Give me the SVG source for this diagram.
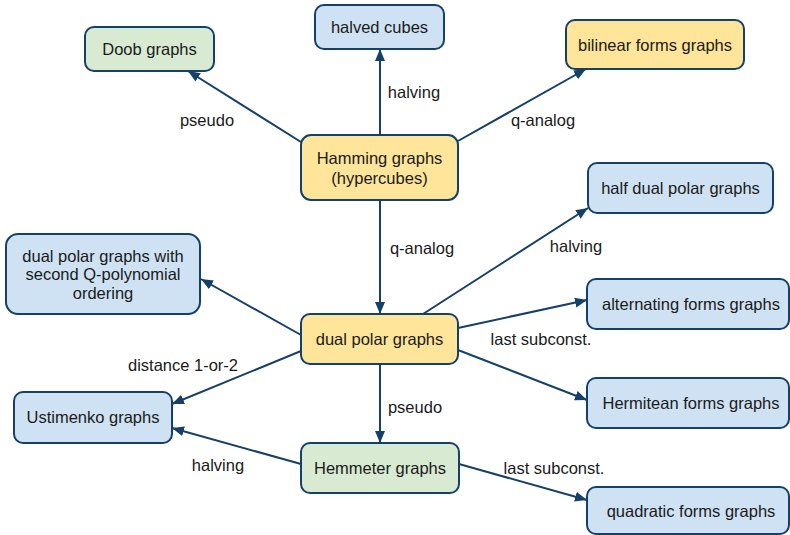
<svg xmlns="http://www.w3.org/2000/svg" width="790" height="535" viewBox="0 0 790 535">
<style>
rect{stroke:#15406a;stroke-width:2}
.b{fill:#cfe2f3}.y{fill:#ffe599}.g{fill:#d9ead3}
text{font-family:"Liberation Sans",Arial,sans-serif;font-size:16.5px;fill:#1a1a1a;text-anchor:middle}
#edges line{stroke:#15406a;stroke-width:2;marker-end:url(#ah)}
</style>
<defs>
<marker id="ah" markerUnits="userSpaceOnUse" markerWidth="14" markerHeight="12" refX="12" refY="5" orient="auto">
<path d="M0,0 L12,5 L0,10 z" fill="#15406a"/>
</marker>
</defs>
<rect width="790" height="535" fill="#fff" style="stroke:none"/>
<g id="edges">
<line x1="301" y1="142" x2="188" y2="71"/>
<line x1="380" y1="135" x2="380" y2="49"/>
<line x1="458" y1="141" x2="586" y2="69"/>
<line x1="380" y1="200" x2="380" y2="314"/>
<line x1="423" y1="314" x2="588" y2="208"/>
<line x1="301" y1="335" x2="201" y2="279"/>
<line x1="301" y1="351" x2="172" y2="404"/>
<line x1="458" y1="328" x2="587" y2="300"/>
<line x1="458" y1="350" x2="587" y2="400"/>
<line x1="380" y1="364" x2="380" y2="443"/>
<line x1="301" y1="464" x2="172" y2="428"/>
<line x1="459" y1="464" x2="587" y2="500"/>
</g>
<g id="labels">
<text x="207" y="126">pseudo</text>
<text x="414" y="98">halving</text>
<text x="543" y="126">q-analog</text>
<text x="422" y="254">q-analog</text>
<text x="576" y="252">halving</text>
<text x="541" y="345">last subconst.</text>
<text x="183" y="371">distance 1-or-2</text>
<text x="415" y="413">pseudo</text>
<text x="218" y="471">halving</text>
<text x="554" y="474">last subconst.</text>
</g>
<g id="doob"><rect class="g" x="85" y="27" width="129" height="44" rx="9"/><text x="149.5" y="55">Doob graphs</text></g>
<g id="halved"><rect class="b" x="315" y="5" width="129" height="44" rx="9"/><text x="379.5" y="33">halved cubes</text></g>
<g id="bilinear"><rect class="y" x="566" y="20" width="178" height="49" rx="9"/><text x="655" y="50.5">bilinear forms graphs</text></g>
<g id="hamming"><rect class="y" x="301" y="135" width="157" height="65" rx="10"/><text x="379.5" y="164">Hamming graphs</text><text x="379.5" y="184">(hypercubes)</text></g>
<g id="halfdual"><rect class="b" x="588" y="163" width="185" height="50" rx="9"/><text x="680.5" y="194">half dual polar graphs</text></g>
<g id="dualsecond"><rect class="b" x="6" y="234" width="194" height="80" rx="12"/><text x="103" y="262">dual polar graphs with</text><text x="103" y="280">second Q-polynomial</text><text x="103" y="299">ordering</text></g>
<g id="dualpolar"><rect class="y" x="301" y="314" width="157" height="50" rx="9"/><text x="379.5" y="345">dual polar graphs</text></g>
<g id="alternating"><rect class="b" x="587" y="279" width="202" height="50" rx="9"/><text x="691" y="310">alternating forms graphs</text></g>
<g id="hermitean"><rect class="b" x="587" y="378" width="202" height="50" rx="9"/><text x="691" y="409">Hermitean forms graphs</text></g>
<g id="ustimenko"><rect class="b" x="14" y="392" width="158" height="51" rx="9"/><text x="93" y="423">Ustimenko graphs</text></g>
<g id="hemmeter"><rect class="g" x="301" y="443" width="158" height="50" rx="9"/><text x="380" y="474">Hemmeter graphs</text></g>
<g id="quadratic"><rect class="b" x="587" y="487" width="202" height="47" rx="9"/><text x="691" y="517">quadratic forms graphs</text></g>
</svg>
